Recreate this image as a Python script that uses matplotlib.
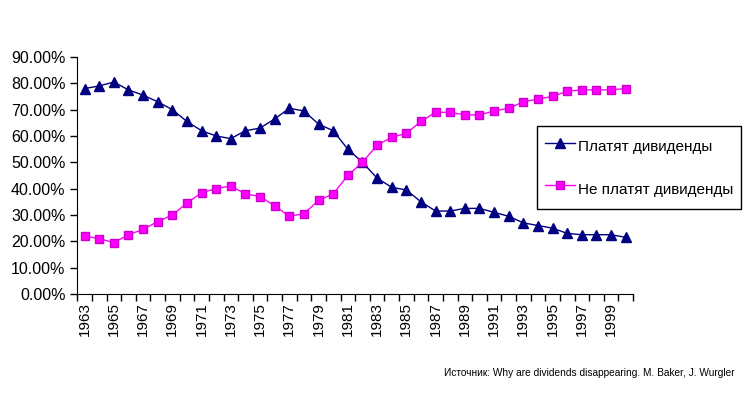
import numpy as np
import matplotlib.pyplot as plt
from matplotlib.ticker import FixedLocator, FuncFormatter

years = list(range(1963, 2001))
pay = [78, 79, 80.5, 77.5, 75.5, 73, 70, 65.5, 62, 60, 59, 62, 63, 66.5, 70.5, 69.5, 64.5, 62, 55, 50,
       44, 40.5, 39.5, 35, 31.5, 31.5, 32.5, 32.5, 31, 29.5, 27, 26, 25, 23, 22.5, 22.5, 22.5, 21.5]
no_pay = [22, 21, 19.5, 22.5, 24.5, 27.5, 30, 34.5, 38.5, 40, 41, 38, 37, 33.5, 29.5, 30.5, 35.5, 38, 45, 50,
          56.5, 59.5, 61, 65.5, 69, 69, 68, 68, 69.5, 70.5, 73, 74, 75, 77, 77.5, 77.5, 77.5, 78]
label_pay = "Платят дивиденды"
label_no = "Не платят дивиденды"
source = "Источник: Why are dividends disappearing. M. Baker, J. Wurgler"

plt.rcParams['font.family'] = ['Liberation Sans', 'DejaVu Sans']

fig = plt.figure(figsize=(7.5, 3.93), dpi=100)
ax = fig.add_axes([0.103, 0.252, 0.741, 0.603])

ax.plot(years, np.array(pay) / 100, color='#000080', marker='^', markersize=6.5, lw=1, label=label_pay)
ax.plot(years, np.array(no_pay) / 100, color='#FF00FF', marker='s', markersize=6, lw=1,
        markeredgecolor='#CC00CC', label=label_no)

ax.set_xlim(years[0] - 0.5, years[-1] + 0.5)
ax.set_ylim(0, 0.9)
ax.set_yticks(np.arange(0, 0.91, 0.1))
ax.yaxis.set_major_formatter(FuncFormatter(lambda v, p: f"{v*100:.2f}%"))

ax.set_xticks(years[::2])
ax.set_xticklabels([str(y) for y in years[::2]], rotation=90)
ax.xaxis.set_minor_locator(FixedLocator(np.arange(years[0] - 0.5, years[-1] + 1, 1)))
ax.tick_params(axis='x', which='major', length=0, labelsize=11, pad=6)
ax.tick_params(axis='x', which='minor', length=5, width=1, direction='out')
ax.tick_params(axis='y', length=5, width=1, labelsize=11.5, colors='black')

for s in ['top', 'right']:
    ax.spines[s].set_visible(False)

leg = fig.legend(loc='upper left', bbox_to_anchor=(0.716, 0.679), fontsize=11,
                 frameon=True, fancybox=False, edgecolor='black', framealpha=1,
                 labelspacing=1.1, handlelength=2.0, handleheight=2.2, handletextpad=0.2,
                 borderpad=0.5, borderaxespad=0)
leg.get_frame().set_linewidth(1)

fig.text(0.98, 0.051, source, ha='right', va='center', fontsize=7.3,
         family=['Liberation Sans Narrow', 'Liberation Sans', 'DejaVu Sans'])

fig.savefig('out.png', dpi=100)
